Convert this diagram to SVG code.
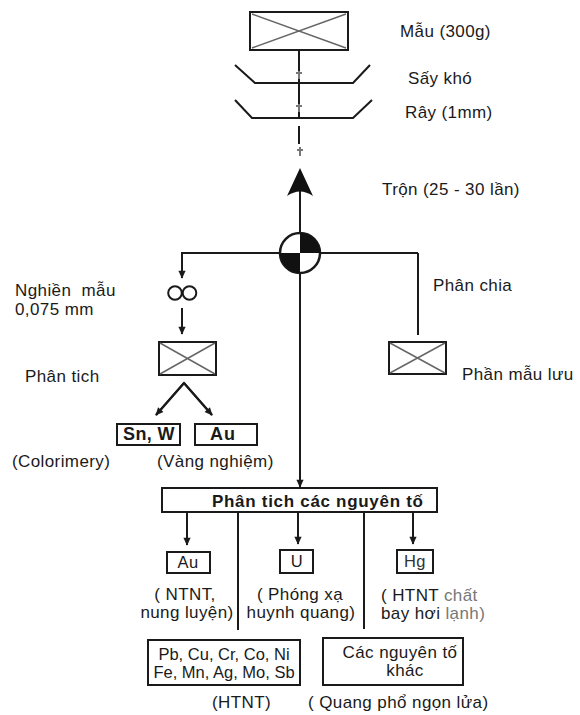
<svg xmlns="http://www.w3.org/2000/svg" width="580" height="715" viewBox="0 0 580 715">
<defs>
<marker id="ah" viewBox="0 0 10 10" refX="9" refY="5" markerWidth="9" markerHeight="8" orient="auto" markerUnits="userSpaceOnUse"><path d="M0,0.5 L10,5 L0,9.5 Z" fill="#1a1a1a"/></marker>
<style>
.t{font-family:"Liberation Sans",Arial,sans-serif;font-size:17px;fill:#1a1a1a;letter-spacing:0.4px}
.b{font-weight:bold}
.m{text-anchor:middle}
.ln{stroke:#1a1a1a;stroke-width:2;fill:none}
.bx{fill:#fff;stroke:#1a1a1a;stroke-width:2}
.x{stroke:#666;stroke-width:1.5}
.g{fill:#777}
</style>
</defs>
<rect width="580" height="715" fill="#fff"/>
<g id="connectors">
<line class="ln" x1="299" y1="50" x2="299" y2="118"/>
<line class="ln" x1="299" y1="126" x2="299" y2="144"/>
<path d="M296,73 H302 M299,71 V79 M296,106 H302 M299,104 V112 M297,150 H303 M300,147 V156" stroke="#777" stroke-width="2"/>
<line class="ln" x1="300" y1="190" x2="300" y2="233" stroke-width="3"/>
<line class="ln" x1="181" y1="253" x2="418" y2="253"/>
<line class="ln" x1="182" y1="253" x2="182" y2="278" marker-end="url(#ah)"/>
<line class="ln" x1="182" y1="308" x2="182" y2="334" marker-end="url(#ah)"/>
<line class="ln" x1="418" y1="253" x2="418" y2="335"/>
<line class="ln" x1="300" y1="273" x2="300" y2="487" marker-end="url(#ah)"/>
<polyline class="ln" points="156,415 184,383 212,415" stroke="#555" stroke-width="1.8"/>
<line class="ln" x1="184" y1="383" x2="156" y2="415" stroke="none" marker-end="url(#ah)"/>
<line class="ln" x1="184" y1="383" x2="212" y2="415" stroke="none" marker-end="url(#ah)"/>
<line class="ln" x1="187" y1="512" x2="187" y2="545" marker-end="url(#ah)"/>
<line class="ln" x1="238" y1="512" x2="238" y2="630"/>
<line class="ln" x1="298" y1="512" x2="298" y2="544" marker-end="url(#ah)"/>
<line class="ln" x1="364" y1="512" x2="364" y2="629"/>
<line class="ln" x1="413" y1="512" x2="413" y2="544" marker-end="url(#ah)"/>
</g>
<g id="mau">
<rect class="bx" x="250" y="12" width="98" height="38"/>
<path class="x" d="M252,14 L346,48 M346,14 L252,48"/>
<text class="t" x="400" y="37">Mẫu (300g)</text>
</g>
<g id="say">
<polyline class="ln" points="235,65 255,83 353,83 370,65" stroke-width="1.5"/>
<text class="t" x="408" y="84">Sấy khó</text>
</g>
<g id="ray">
<polyline class="ln" points="235,100 252,118 353,118 372,100" stroke-width="1.5"/>
<text class="t" x="405" y="118">Rây (1mm)</text>
</g>
<g id="tron">
<path d="M300,168 L313,196 Q300,187 287,196 Z" fill="#111"/>
<text class="t" x="382" y="195">Trộn (25 - 30 lần)</text>
</g>
<g id="phanchia">
<circle cx="300" cy="253" r="20" fill="#fff" stroke="#1a1a1a" stroke-width="2.5"/>
<path d="M300,253 L300,233 A20,20 0 0 1 320,253 Z M300,253 L300,273 A20,20 0 0 1 280,253 Z" fill="#111"/>
<text class="t" x="433" y="291">Phân chia</text>
</g>
<g id="nghien">
<circle cx="175" cy="293" r="6.8" fill="none" stroke="#1a1a1a" stroke-width="2"/>
<circle cx="189.5" cy="293" r="6.8" fill="none" stroke="#1a1a1a" stroke-width="2"/>
<text class="t" x="15" y="296" xml:space="preserve" style="white-space:pre">Nghiền  mẫu</text>
<text class="t" x="15" y="315">0,075 mm</text>
</g>
<g id="phantich">
<rect class="bx" x="159" y="342" width="57" height="33"/>
<path class="x" d="M160,343 L215,374 M215,343 L160,374" stroke="#222"/>
<text class="t" x="25" y="382">Phân tich</text>
</g>
<g id="luu">
<rect class="bx" x="389" y="342" width="57" height="32"/>
<path class="x" d="M390,343 L445,373 M445,343 L390,373"/>
<text class="t" x="462" y="380">Phần mẫu lưu</text>
</g>
<g id="snw">
<rect class="bx" x="117" y="424" width="63" height="21" stroke="#444"/>
<text class="t b m" x="149" y="440" style="font-size:18px">Sn, W</text>
<text class="t" x="12" y="467">(Colorimery)</text>
</g>
<g id="au1">
<rect class="bx" x="195" y="424" width="62" height="21" stroke="#444"/>
<text class="t b m" x="223" y="440" style="font-size:18px;letter-spacing:1px">Au</text>
<text class="t" x="157" y="467">(Vàng nghiệm)</text>
</g>
<g id="nguyento">
<rect class="bx" x="162" y="488" width="275" height="24" stroke="#333" stroke-width="1.8"/>
<text class="t b" x="212" y="507" style="letter-spacing:0.7px">Phân tich các nguyên tố</text>
</g>
<g id="au2">
<rect class="bx" x="167" y="552" width="43" height="21" stroke-width="1.5"/>
<text class="t m" x="188" y="568" style="font-size:16.5px">Au</text>
<text class="t m" x="185" y="600">( NTNT,</text>
<text class="t m" x="187" y="618">nung luyện)</text>
</g>
<g id="u">
<rect class="bx" x="280" y="550" width="33" height="23" stroke-width="1.5"/>
<text class="t m" x="297" y="567" style="font-size:16.5px">U</text>
<text class="t m" x="300" y="600">( Phóng xạ</text>
<text class="t m" x="301" y="618">huynh quang)</text>
</g>
<g id="hg">
<rect class="bx" x="397" y="550" width="36" height="23" stroke-width="1.5" stroke="#444"/>
<text class="t m" x="415" y="567" style="font-size:16.5px;fill:#333">Hg</text>
<text class="t" x="381" y="601">( HTNT <tspan class="g">chất</tspan></text>
<text class="t" x="381" y="619">bay hơi <tspan class="g">lạnh)</tspan></text>
</g>
<g id="htnt">
<rect class="bx" x="148" y="640" width="152" height="45" stroke-width="1.5"/>
<text class="t m" x="224" y="660" style="font-size:16.5px;letter-spacing:0">Pb, Cu, Cr, Co, Ni</text>
<text class="t m" x="224" y="678" style="font-size:16.5px;letter-spacing:0">Fe, Mn, Ag, Mo, Sb</text>
<text class="t" x="212" y="708">(HTNT)</text>
</g>
<g id="khac">
<rect class="bx" x="323" y="638" width="140" height="47" stroke-width="1.5"/>
<text class="t m" x="400" y="658">Các nguyên tố</text>
<text class="t m" x="405" y="676">khác</text>
<text class="t" x="308" y="708">( Quang phổ ngọn lửa)</text>
</g>
</svg>
